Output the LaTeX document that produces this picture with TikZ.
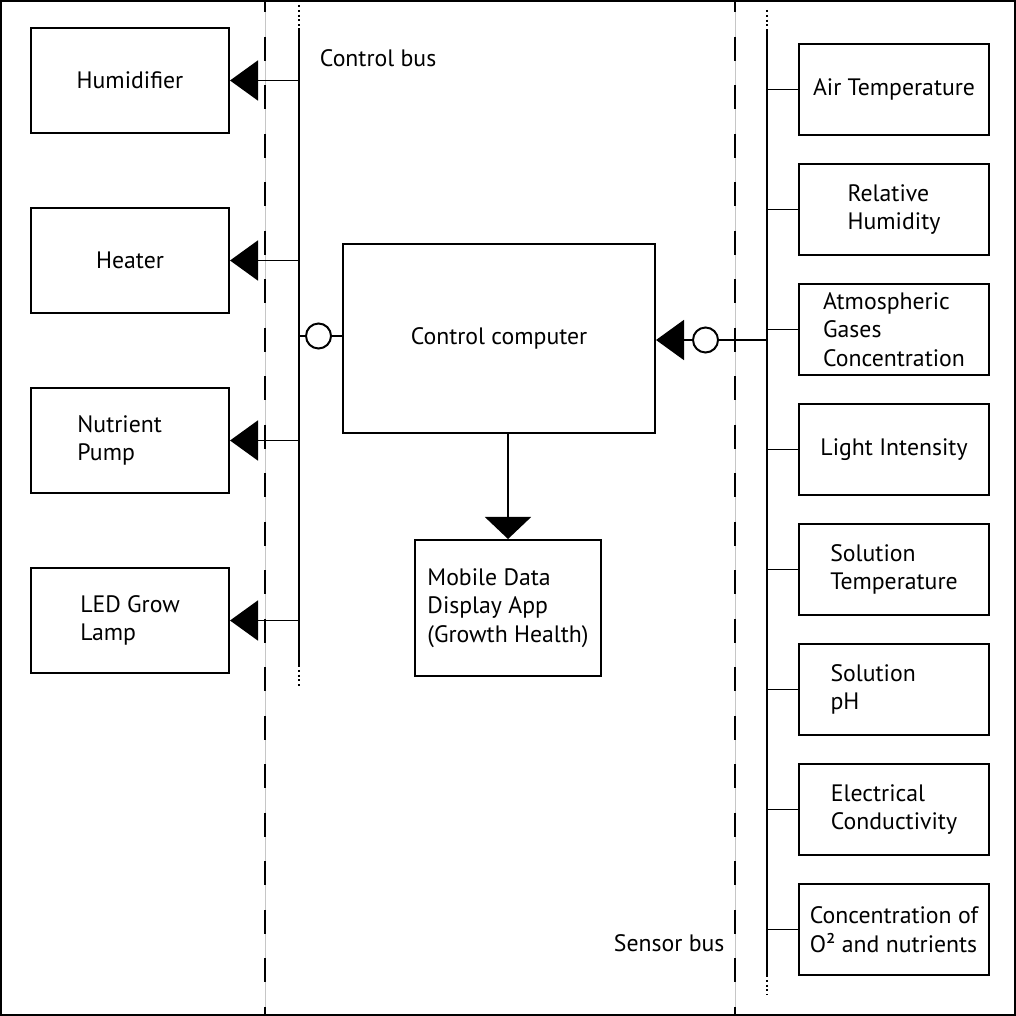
\documentclass[tikz,border=0pt]{standalone}
\usepackage{fontspec}
\setmainfont{PT Sans}
\usetikzlibrary{arrows.meta}
\usetikzlibrary{positioning, calc}

\begin{document}
\begin{tikzpicture}[x=0.025cm, y=-0.025cm, line width=1.4pt,
    font=\fontsize{16.9}{20.3}\selectfont,
    actuator/.style={draw, minimum width=4.95cm, minimum height=2.625cm, align=left, inner sep=0pt},
    sensor/.style={draw, minimum width=4.75cm, minimum height=2.275cm, align=left, inner sep=0pt},
    port/.style={draw, circle, minimum size=0.625cm, inner sep=0pt},
    pointer/.style={-{Triangle[length=0.7cm, width=1cm]}},
    separator/.style={dash pattern=on 0.6cm off 0.6125cm}]

        \useasboundingbox (0,0) rectangle (1016,1016);

        % Frame
        \draw (1,1) rectangle (1015,1015);

        % Separators
        \draw[gray!45, line width=0.6pt] (265,0) -- (265,1016);
        \draw[separator] (265,-12) -- (265,1016);
        \draw[gray!45, line width=0.6pt] (735,0) -- (735,1016);
        \draw[separator] (735,-12) -- (735,1016);

        % Control bus
        \coordinate (cbus) at (299,0);
        \draw[dotted] (299,5) -- (299,28);
        \draw (299,28) -- (299,665);
        \draw[dotted] (299,665) -- (299,688);
        \node[anchor=west, inner sep=0pt] (cbl) at (319,58) {Control bus};

        % Actuators
        \node[actuator] (hum) at (130,80.5) {Humidifier};
        \node[actuator] (heat) at (130,260.5) {Heater};
        \node[actuator, text width=2.625cm] (pump) at (130,440.5) {Nutrient\\Pump};
        \node[actuator] (led) at (130,620.5) {LED Grow\\Lamp};

        \draw[pointer] (hum.east -| cbus) -- (hum.east);
        \draw[pointer] (heat.east -| cbus) -- (heat.east);
        \draw[pointer] (pump.east -| cbus) -- (pump.east);
        \draw[pointer] (led.east -| cbus) -- (led.east);

        % Control computer
        \node[draw, minimum width=7.8cm, minimum height=4.725cm, inner sep=0pt] (cc) at (499,338.5) {Control computer};
        \node[port] (cport) at (318.5,336) {};
        \draw (cport.west -| cbus) -- (cport.west);
        \draw (cport.east) -- (cport.east -| cc.west);

        % Display
        \node[draw, minimum width=4.65cm, minimum height=3.4cm, align=left, inner sep=0pt] (app) at (508,608) {Mobile Data\\Display App\\(Growth Health)};
        \draw[-{Triangle[length=0.55cm, width=1.15cm]}] (app.north |- cc.south) -- (app.north);

        % Sensor bus
        \coordinate (sbus) at (767,0);
        \draw[dotted] (767,10) -- (767,30);
        \draw (767,30) -- (767,975);
        \draw[dotted] (767,975) -- (767,995);
        \node[anchor=west, inner sep=0pt] (sbl) at (613,943) {Sensor bus};

        \node[port] (sport) at (705.5,340) {};
        \draw[pointer] (sport.west) -- (sport.west -| cc.east);
        \draw (sport.east) -- (sport.east -| sbus);

        % Sensors
        \node[sensor] (air) at (894,89.5) {Air Temperature};
        \node[sensor] (rh) at (894,209.5) {Relative\\Humidity};
        \node[sensor] (gas) at (894,329.5) {Atmospheric\\Gases\\Concentration};
        \node[sensor] (light) at (894,449.5) {Light Intensity};
        \node[sensor] (stemp) at (894,569.5) {Solution\\Temperature};
        \node[sensor, text width=3.175cm] (ph) at (894,689.5) {Solution\\pH};
        \node[sensor] (ec) at (894,809.5) {Electrical\\Conductivity};
        \node[sensor] (oxy) at (894,929.5) {Concentration of\\O² and nutrients};

        \draw (air.west -| sbus) -- (air.west);
        \draw (rh.west -| sbus) -- (rh.west);
        \draw (gas.west -| sbus) -- (gas.west);
        \draw (light.west -| sbus) -- (light.west);
        \draw (stemp.west -| sbus) -- (stemp.west);
        \draw (ph.west -| sbus) -- (ph.west);
        \draw (ec.west -| sbus) -- (ec.west);
        \draw (oxy.west -| sbus) -- (oxy.west);
    \end{tikzpicture}
\end{document}
